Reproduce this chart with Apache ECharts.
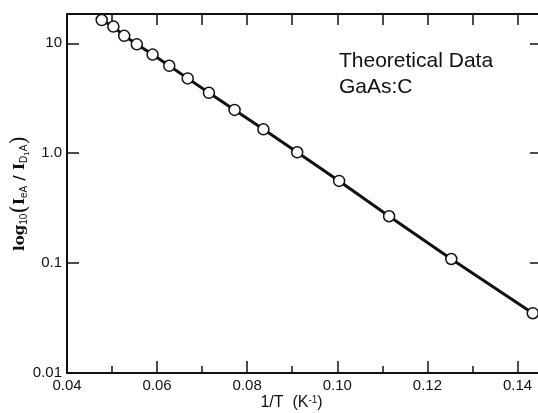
<!DOCTYPE html>
<html>
<head>
<meta charset="utf-8">
<script src="https://cdn.jsdelivr.net/npm/echarts@6/dist/echarts.min.js"></script>
<style>
  html, body { margin: 0; padding: 0; background: #fff; }
  #main { width: 538px; height: 413px; }
</style>
</head>
<body>
<div id="main"></div>
<script>
// 1/T values (K^-1) and the ratio
var invT = [0.0477, 0.0503, 0.0527, 0.0555, 0.0590, 0.0627, 0.0668, 0.0715,
  0.0772, 0.0836, 0.0911, 0.1004, 0.1115, 0.1253, 0.1434];
var ratio = [16.3, 14.2, 11.7, 9.8, 7.9, 6.25, 4.8, 3.55,
  2.48, 1.65, 1.02, 0.56, 0.267, 0.109, 0.035];

var xMajor = [0.04, 0.06, 0.08, 0.10, 0.12, 0.14];
var xMinor = [0.05, 0.07, 0.09, 0.11, 0.13];
var xAll = [0.04, 0.05, 0.06, 0.07, 0.08, 0.09, 0.10, 0.11, 0.12, 0.13, 0.14];
var yTicks = [0.01, 0.1, 1, 10];
var yLabels = ['0.01', '0.1', '1.0', '10'];

var font = 'Liberation Sans';
var ink = '#111';

var chart = echarts.init(document.getElementById('main'));

var points = invT.map(function (x, i) { return [x, ratio[i]]; });

var option = {
  animation: false,
  backgroundColor: '#fff',
  title: {
    text: 'Theoretical Data\nGaAs:C',
    left: 334,
    top: 43,
    textStyle: {
      fontFamily: font,
      fontSize: 21,
      fontWeight: 'normal',
      color: ink,
      lineHeight: 26
    }
  },
  grid: { left: 67, right: -2, top: 14, bottom: 40, outerBoundsMode: 'none', containLabel: false },
  xAxis: [{
    type: 'value',
    position: 'bottom',
    min: 0.04,
    max: 0.145,
    interval: 0.02,
    axisLine: { lineStyle: { color: ink, width: 2 } },
    axisTick: { inside: true, length: 12, customValues: xMajor, lineStyle: { color: ink, width: 1.5 } },
    axisLabel: {
      customValues: xMajor,
      margin: 5,
      fontFamily: font, fontSize: 15, color: ink,
      formatter: function (v) { return v.toFixed(2); }
    },
    splitLine: { show: false },
    name: '{n|1/T  (K}{sup|-1}{n|)}',
    nameLocation: 'middle',
    nameGap: 22,
    nameMoveOverlap: false,
    nameTextStyle: {
      padding: [0, 24, 0, 0],
      rich: {
        n: { fontFamily: font, fontSize: 16, color: ink, verticalAlign: 'bottom' },
        sup: { fontFamily: font, fontSize: 10, color: ink, verticalAlign: 'top' }
      }
    }
  }, {
    type: 'value',
    position: 'bottom',
    min: 0.04,
    max: 0.145,
    axisLine: { show: false },
    axisTick: { inside: true, length: 7, customValues: xMinor, lineStyle: { color: ink, width: 1.5 } },
    axisLabel: { show: false },
    splitLine: { show: false }
  }, {
    type: 'value',
    position: 'top',
    min: 0.04,
    max: 0.145,
    axisLine: { lineStyle: { color: ink, width: 2 } },
    axisTick: { inside: true, length: 11, customValues: xAll, lineStyle: { color: ink, width: 1.5 } },
    axisLabel: { show: false },
    splitLine: { show: false }
  }],
  yAxis: [{
    type: 'log',
    logBase: 10,
    position: 'left',
    min: 0.01,
    max: 18.5,
    axisLine: { lineStyle: { color: ink, width: 2 } },
    axisTick: { inside: true, length: 12, customValues: yTicks, lineStyle: { color: ink, width: 1.5 } },
    minorTick: { show: false },
    axisLabel: {
      customValues: yTicks,
      margin: 5,
      fontFamily: font, fontSize: 15, color: ink,
      formatter: function (v) {
        var i = yTicks.indexOf(v);
        return i >= 0 ? yLabels[i] : (v >= 5 ? '10' : v >= 0.5 ? '1.0' : v >= 0.05 ? '0.1' : '0.01');
      }
    },
    splitLine: { show: false },
    name: '{b|log}{s|10}{p|(}{b|I}{s|eA}{b| / I}{s|D}{ss|1}{s|A}{p|)}',
    nameLocation: 'middle',
    nameRotate: 90,
    nameGap: 36,
    nameMoveOverlap: false,
    nameTextStyle: {
      rich: {
        b: { fontFamily: 'DejaVu Serif', fontSize: 15, fontWeight: 'bold', color: ink, verticalAlign: 'middle' },
        p: { fontFamily: 'DejaVu Serif', fontSize: 22, color: ink, verticalAlign: 'middle' },
        s: { fontFamily: font, fontSize: 10, color: ink, verticalAlign: 'bottom', padding: [0, 0, 2, 0] },
        ss: { fontFamily: font, fontSize: 8, color: ink, verticalAlign: 'bottom' }
      }
    }
  }, {
    type: 'log',
    logBase: 10,
    position: 'right',
    min: 0.01,
    max: 18.5,
    axisLine: { lineStyle: { color: ink, width: 2 } },
    axisTick: { inside: true, length: 10, customValues: yTicks, lineStyle: { color: ink, width: 1.5 } },
    minorTick: { show: false },
    axisLabel: { show: false },
    splitLine: { show: false }
  }],
  series: [{
    type: 'line',
    xAxisIndex: 0,
    yAxisIndex: 0,
    data: points,
    symbol: 'circle',
    symbolSize: 11,
    showAllSymbol: true,
    lineStyle: { color: ink, width: 3 },
    itemStyle: { color: '#fff', borderColor: ink, borderWidth: 1.5 },
    z: 5
  }]
};

chart.setOption(option);
</script>
</body>
</html>
